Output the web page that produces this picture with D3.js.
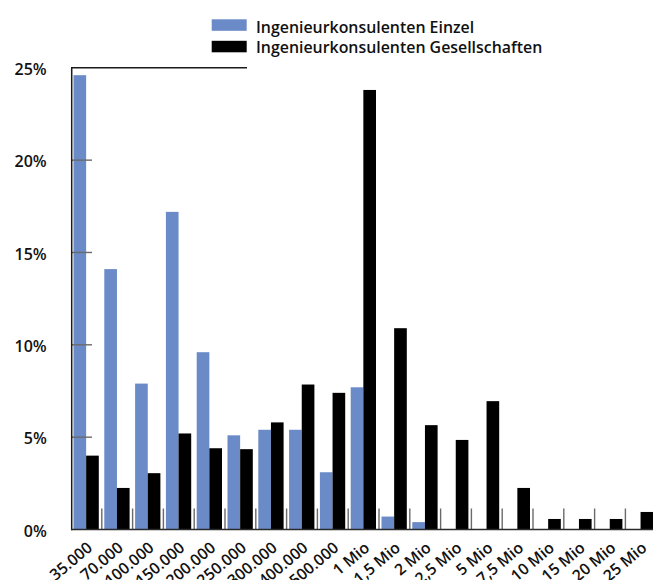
<!DOCTYPE html>
<html><head><meta charset="utf-8">
<script src="https://cdn.jsdelivr.net/npm/d3@7"></script>
<style>
html,body{margin:0;padding:0;background:#fff;}
svg{display:block;font-family:"Open Sans",sans-serif;}
</style></head>
<body>
<svg id="c" width="653" height="580"></svg>
<script>
const categories = ["35.000","70.000","100.000","150.000","200.000","250.000","300.000","400.000","500.000","1 Mio","1,5 Mio","2 Mio","2,5 Mio","5 Mio","7,5 Mio","10 Mio","15 Mio","20 Mio","25 Mio"];
const einzel = [24.6,14.1,7.9,17.2,9.6,5.1,5.4,5.4,3.1,7.7,0.7,0.4,0,0,0,0,0,0,0];
const gesellschaften = [4.0,2.25,3.05,5.2,4.4,4.35,5.8,7.85,7.4,23.8,10.9,5.65,4.85,6.95,2.25,0.57,0.57,0.57,0.95];
const seriesNames = ["Ingenieurkonsulenten Einzel","Ingenieurkonsulenten Gesellschaften"];
const seriesColors = ["#6a8bc8","#000000"];
const yTicks = [0,5,10,15,20,25];

const svg = d3.select("#c");
const x = d3.scaleBand().domain(categories).range([71, 71 + 19*30.8]).padding(0);
const x1 = d3.scaleBand().domain([0,1]).range([2.5, 27.8]).padding(0);
const y = d3.scaleLinear().domain([0,25]).range([529.5, 67.8]);

const series = [einzel, gesellschaften];

// bars
series.forEach((vals, si) => {
  svg.append("g").selectAll("rect").data(vals).join("rect")
    .attr("x", (d,i) => x(categories[i]) + x1(si))
    .attr("width", x1.bandwidth())
    .attr("y", d => y(d))
    .attr("height", d => y(0) - y(d))
    .attr("fill", seriesColors[si]);
});

// inner vertical ticks at band boundaries
svg.append("g").selectAll("line").data(categories.slice(1)).join("line")
  .attr("x1", d => x(d)).attr("x2", d => x(d))
  .attr("y1", y(0)).attr("y2", y(0) - 21)
  .attr("stroke", "#6a6a6a").attr("stroke-width", 1.4);

// inward y ticks
svg.append("g").selectAll("line").data(yTicks.filter(t => t > 0 && t < 25)).join("line")
  .attr("x1", 72).attr("x2", 92)
  .attr("y1", d => y(d)).attr("y2", d => y(d))
  .attr("stroke", "#6a6a6a").attr("stroke-width", 1.4);

// axis lines
svg.append("line").attr("x1", 71.7).attr("x2", 71.7).attr("y1", y(25)).attr("y2", y(0)+0.7)
  .attr("stroke", "#1a1a1a").attr("stroke-width", 1.5);
svg.append("line").attr("x1", 71).attr("x2", 653).attr("y1", y(0)).attr("y2", y(0))
  .attr("stroke", "#2a2a2a").attr("stroke-width", 1.5);
svg.append("line").attr("x1", 71).attr("x2", 247).attr("y1", y(25)).attr("y2", y(25))
  .attr("stroke", "#1a1a1a").attr("stroke-width", 1.5);

// y labels
const yAxis = d3.axisLeft(y).tickValues(yTicks).tickFormat(d => d + "%").tickSize(0).tickPadding(25);
const ya = svg.append("g").attr("transform", "translate(71.7,0)").call(yAxis);
ya.select(".domain").remove();
ya.selectAll("text").attr("font-family", "'Open Sans',sans-serif").attr("font-size", 16)
  .attr("font-weight", 600).attr("fill", "#111").attr("dy", "0.42em");

// x labels
svg.append("g").selectAll("text").data(categories).join("text")
  .attr("transform", d => `translate(${x(d) + x.bandwidth()/2 + 7},${y(0) + 20}) rotate(-40)`)
  .attr("text-anchor", "end")
  .attr("font-size", 15.8).attr("font-weight", 600).attr("fill", "#111")
  .text(d => d);

// legend
const lg = svg.append("g");
seriesNames.forEach((n, i) => {
  lg.append("rect").attr("x", 211.7).attr("y", 19.3 + i*21.5).attr("width", 35).attr("height", 11.5)
    .attr("fill", seriesColors[i]);
  lg.append("text").attr("x", 256).attr("y", 32.5 + i*20.3)
    .attr("font-size", 15.9).attr("font-weight", 600).attr("fill", "#111").text(n);
});
</script>
</body></html>
